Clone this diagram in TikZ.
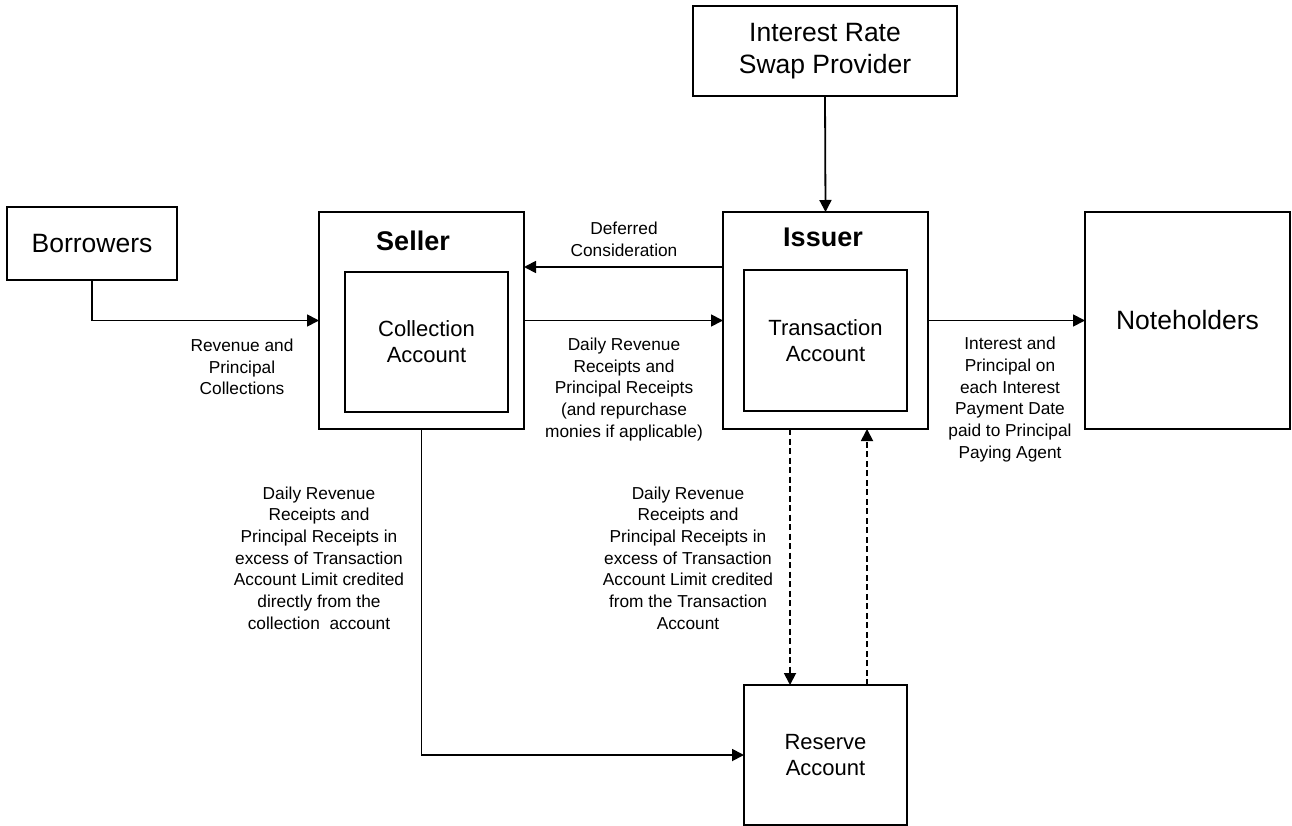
\documentclass[tikz,border=0pt]{standalone}
\usepackage{fontspec}
\setmainfont{Liberation Sans}
\usetikzlibrary{arrows.meta}

\begin{document}
\begin{tikzpicture}[x=1pt, y=-1pt,
    acctbox/.style={draw, line width=1.8pt, inner sep=0pt, outer sep=0pt, align=center},
    flow/.style={line width=1.8pt, -{Triangle[length=12pt,width=12pt]}},
    dashflow/.style={flow, dash pattern=on 6pt off 3.5pt},
    flowlbl/.style={align=center, font=\fontsize{17.3}{21.7}\selectfont},
    biglbl/.style={font=\fontsize{26.5}{32}\selectfont},
    innerlbl/.style={font=\fontsize{22}{26}\selectfont},
    titlelbl/.style={font=\fontsize{27}{32}\selectfont\bfseries}]
    \useasboundingbox (0,0) rectangle (1292,826);

    % Parties
    \node[acctbox, biglbl, minimum width=264pt, minimum height=90pt] (swap) at (825,51) {Interest Rate\\Swap Provider};
    \node[acctbox, biglbl, minimum width=170pt, minimum height=73pt] (borrowers) at (92,243.5) {Borrowers};
    \node[acctbox, minimum width=205pt, minimum height=217pt] (seller) at (421.5,320.5) {};
    \node[acctbox, minimum width=205pt, minimum height=217pt] (issuer) at (825.5,320.5) {};
    \node[acctbox, biglbl, minimum width=205pt, minimum height=217pt] (noteholders) at (1187.5,320.5) {Noteholders};

    % Accounts
    \node[acctbox, innerlbl, minimum width=163pt, minimum height=140pt] (collection) at (426.5,342) {Collection\\Account};
    \node[acctbox, innerlbl, minimum width=163pt, minimum height=141pt] (transaction) at (825.5,340.5) {Transaction\\Account};
    \node[acctbox, innerlbl, minimum width=163pt, minimum height=140pt] (reserve) at (825.5,755) {Reserve\\Account};

    % Titles
    \node[titlelbl] (sellertitle) at (413,241) {Seller};
    \node[titlelbl] (issuertitle) at (823,237) {Issuer};

    % Flows
    \draw[flow] (swap.south) -- (issuer.north);
    \draw[flow] (borrowers.south) |- (seller.west);
    \draw[flow] ([yshift=53.5pt]issuer.west) -- ([yshift=53.5pt]seller.east);
    \draw[flow] (seller.east) -- (issuer.west);
    \draw[flow] (issuer.east) -- (noteholders.west);
    \draw[flow] (seller.south) |- (reserve.west);
    \draw[dashflow] ([xshift=-35.5pt]issuer.south) -- ([xshift=-35.5pt]reserve.north);
    \draw[dashflow] ([xshift=41.5pt]reserve.north) -- ([xshift=41.5pt]issuer.south);

    % Flow labels
    \node[flowlbl] (lblcollect) at (242,367) {Revenue and\\Principal\\Collections};
    \node[flowlbl] (lbldeferred) at (624,239) {Deferred\\Consideration};
    \node[flowlbl] (lbldaily) at (624,389.5) {Daily Revenue\\Receipts and\\Principal Receipts\\(and repurchase\\monies if applicable)};
    \node[flowlbl] (lblnotes) at (1010,399.5) {Interest and\\Principal on\\each Interest\\Payment Date\\paid to Principal\\Paying Agent};
    \node[flowlbl] (lbldirect) at (319,558) {Daily Revenue\\Receipts and\\Principal Receipts in\\excess of Transaction\\Account Limit credited\\directly from the\\collection~ account};
    \node[flowlbl] (lbltrans) at (688,558) {Daily Revenue\\Receipts and\\Principal Receipts in\\excess of Transaction\\Account Limit credited\\from the Transaction\\Account};
\end{tikzpicture}
\end{document}
